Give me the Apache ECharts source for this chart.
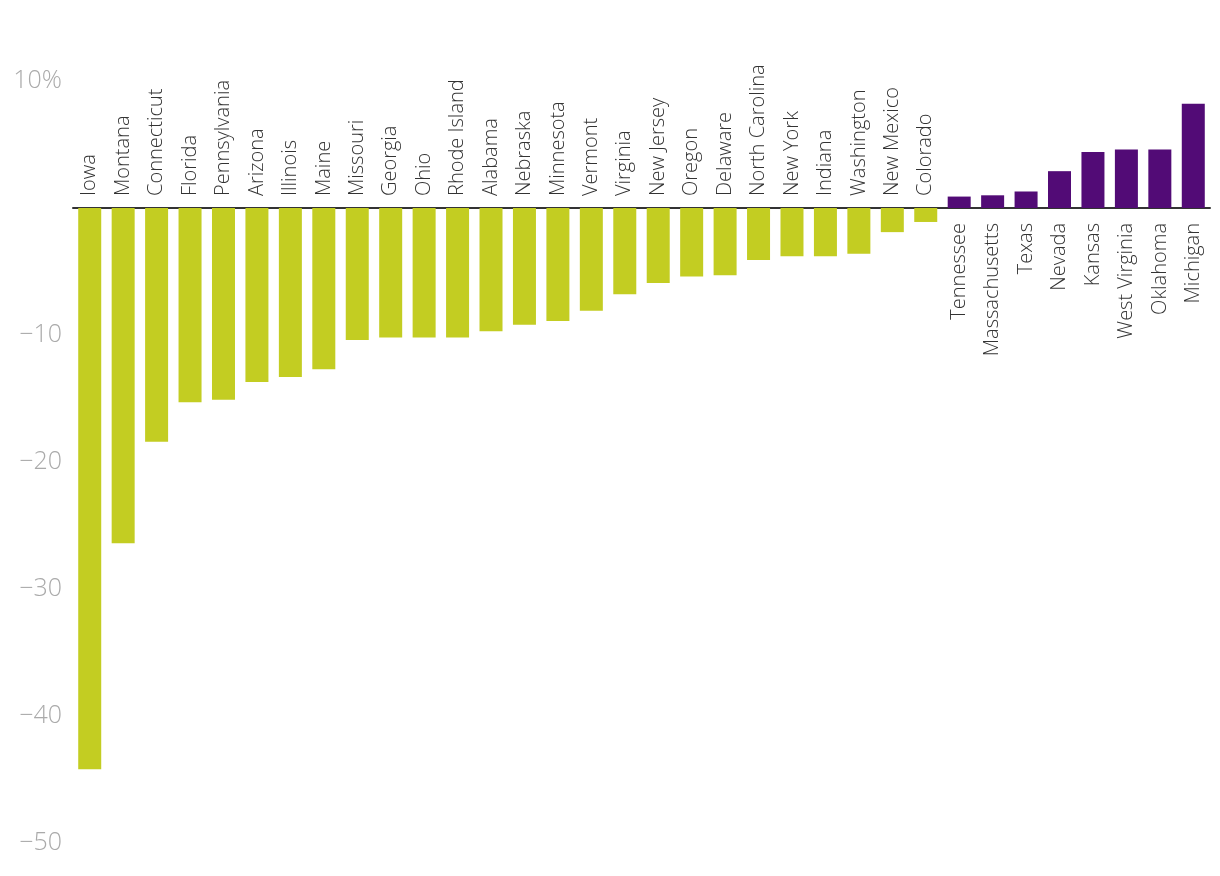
<!DOCTYPE html>
<html>
<head>
<meta charset="utf-8">
<script src="https://cdn.jsdelivr.net/npm/echarts@6/dist/echarts.min.js"></script>
<style>html,body{margin:0;padding:0;background:#fff;}#c{width:1220px;height:876px;}</style>
</head>
<body>
<div id="c"></div>
<script>
const states = ["Iowa","Montana","Connecticut","Florida","Pennsylvania","Arizona","Illinois","Maine","Missouri","Georgia","Ohio","Rhode Island","Alabama","Nebraska","Minnesota","Vermont","Virginia","New Jersey","Oregon","Delaware","North Carolina","New York","Indiana","Washington","New Mexico","Colorado","Tennessee","Massachusetts","Texas","Nevada","Kansas","West Virginia","Oklahoma","Michigan"];
const values = [-44.2,-26.4,-18.4,-15.3,-15.1,-13.7,-13.3,-12.7,-10.4,-10.2,-10.2,-10.2,-9.7,-9.2,-8.9,-8.1,-6.8,-5.9,-5.4,-5.3,-4.1,-3.8,-3.8,-3.6,-1.9,-1.1,0.9,1.0,1.3,2.9,4.4,4.6,4.6,8.2];
const yTicks = {"10":"10%","0":"","-10":"\u221210","-20":"\u221220","-30":"\u221230","-40":"\u221240","-50":"\u221250"};
const negColor = "#c3cd22";
const posColor = "#520b76";

const W = 1220, H = 876;
const G = {left:73, right:10, top:81, bottom:33};
const yMin = -50, yMax = 10;
const zeroY = G.top + (yMax - 0) / (yMax - yMin) * (H - G.top - G.bottom);

const chart = echarts.init(document.getElementById('c'));
const labelFont = {fontFamily:"'Open Sans', Lato, sans-serif", fontWeight:300, fontSize:20, color:'#333'};
const hiddenY = {type:'value',show:false};
chart.setOption({
  animation:false,
  grid:[
    Object.assign({containLabel:false,outerBoundsMode:'none'},G),
    {left:G.left,right:G.right,top:0,height:zeroY,containLabel:false,outerBoundsMode:'none'},
    {left:G.left,right:G.right,top:zeroY,bottom:G.bottom,containLabel:false,outerBoundsMode:'none'}
  ],
  xAxis:[
    {type:'category',data:states,gridIndex:0,
     axisLine:{show:true,onZero:true,lineStyle:{color:'#333',width:2}},
     axisTick:{show:false},axisLabel:{show:false}},
    {type:'category',data:states,gridIndex:1,position:'bottom',
     axisLine:{show:false},axisTick:{show:false},
     axisLabel:Object.assign({interval:0,rotate:90,margin:15,
       formatter:(v,i)=>values[i]>0?v:''},labelFont)},
    {type:'category',data:states,gridIndex:2,position:'top',
     axisLine:{show:false},axisTick:{show:false},
     axisLabel:Object.assign({interval:0,rotate:90,margin:12,
       formatter:(v,i)=>values[i]<0?v:''},labelFont)}
  ],
  yAxis:[
    {type:'value',min:yMin,max:yMax,interval:10,gridIndex:0,
    splitLine:{show:false},axisLine:{show:false},axisTick:{show:false},
    axisLabel:{margin:11,fontSize:25,fontFamily:"'Open Sans', Lato, sans-serif",fontWeight:300,color:'#aaa',
      formatter:v=>yTicks[String(v)]!==undefined?yTicks[String(v)]:String(v)}},
    Object.assign({gridIndex:1,min:0,max:1},hiddenY),
    Object.assign({gridIndex:2,min:0,max:1},hiddenY)
  ],
  series:[{type:'bar',xAxisIndex:0,yAxisIndex:0,barWidth:23,
    data:values.map(v=>({value:v,itemStyle:{color:v<0?negColor:posColor}}))}]
});
</script>
</body>
</html>
